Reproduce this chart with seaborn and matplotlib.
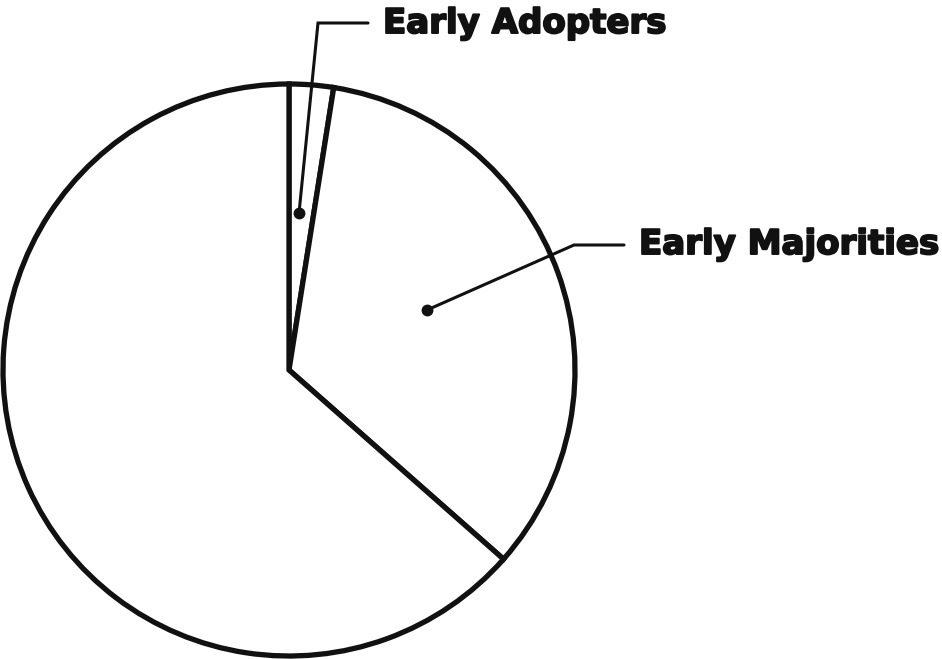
import matplotlib
matplotlib.use("Agg")
import matplotlib.pyplot as plt
import matplotlib.patheffects as pe
import seaborn as sns

# slice shares, clockwise from 12 o'clock
labels = ['Early Adopters', 'Early Majorities', '']
shares = [2.5, 34.0, 63.5]

# label anchor (dot) and text spots, in pixels from top-left
dots = [(299, 213), (427, 310)]
elbows = [(318, 23), (574, 245)]
line_ends = [(368, 23), (624, 245)]
text_pos = [(383, 33), (639, 254)]

sns.set_theme(style='white')
plt.rcParams['font.family'] = ['DejaVu Sans']

W, H = 942, 659
fig = plt.figure(figsize=(W / 100, H / 100), dpi=100)
ax = fig.add_axes([0, 0, 1, 1])

def px(p):
    return p[0], H - p[1]

ax.pie(shares, startangle=90, counterclock=False,
       center=px((289, 370)), radius=286,
       colors=['white'] * len(shares),
       wedgeprops=dict(edgecolor='#111111', linewidth=3.8, joinstyle='miter'))

for i in range(2):
    xs, ys = zip(*[px(dots[i]), px(elbows[i]), px(line_ends[i])])
    ax.plot(xs, ys, color='#111111', lw=2.2, solid_joinstyle='miter')
    ax.plot(*px(dots[i]), 'o', color='#111111', ms=7.5)
    tx, ty = px(text_pos[i])
    ax.text(tx, ty, labels[i], fontsize=24.5, fontweight='bold',
            color='#111111', ha='left', va='baseline',
            path_effects=[pe.withStroke(linewidth=1.4, foreground='#111111')])

ax.set_xlim(0, W)
ax.set_ylim(0, H)
ax.set_aspect('equal')
ax.axis('off')

fig.savefig('out.png', dpi=100, facecolor='white')
